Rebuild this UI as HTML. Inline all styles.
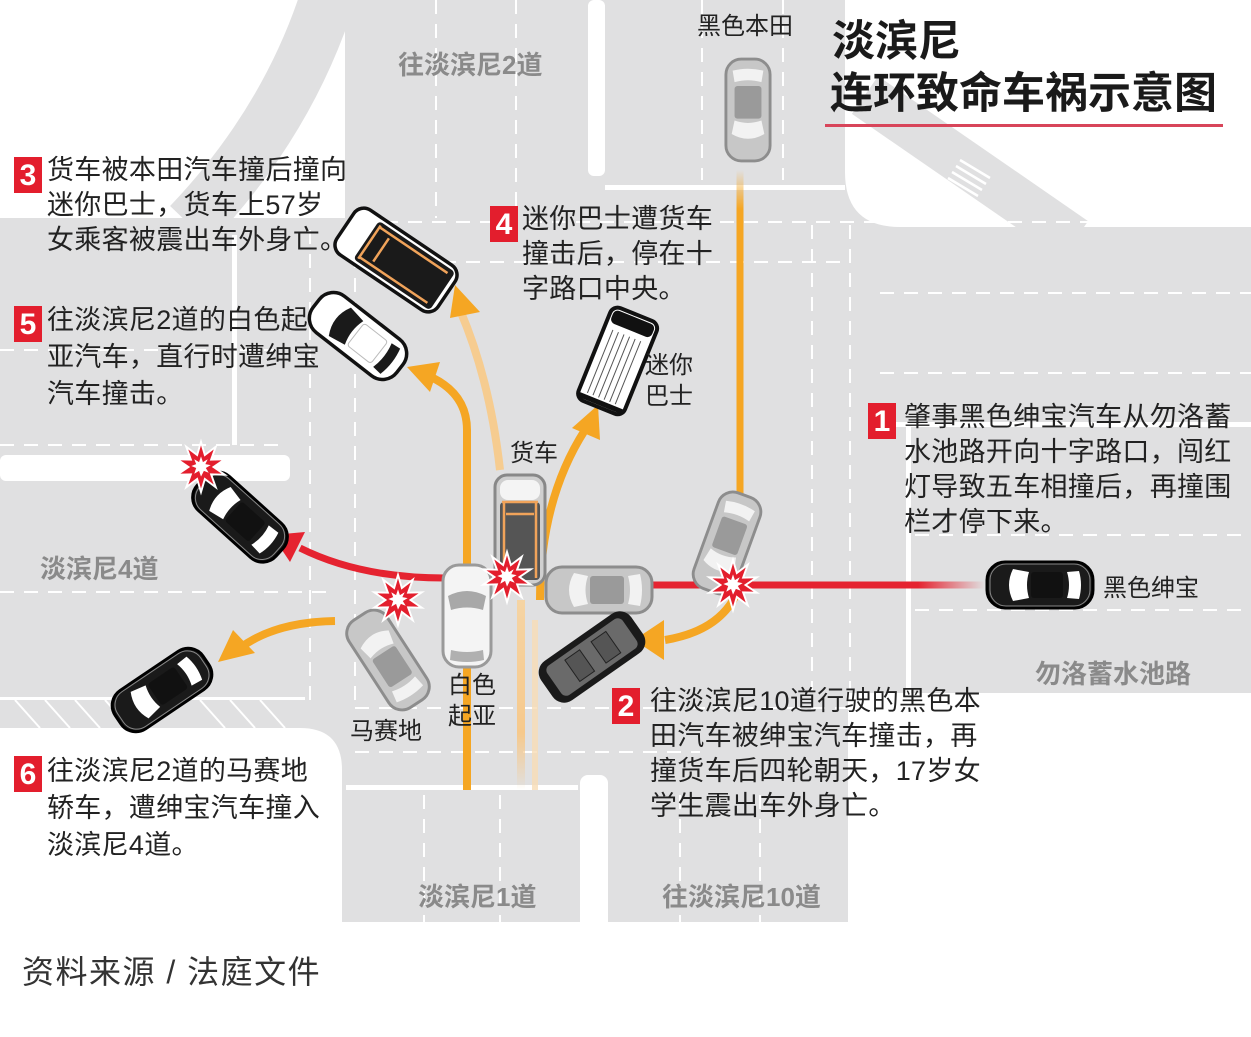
<!DOCTYPE html>
<html><head><meta charset="utf-8"><style>
html,body{margin:0;padding:0;background:#fff;}
body{width:1251px;height:1037px;overflow:hidden;position:relative;font-family:"Liberation Sans","Noto Sans CJK SC",sans-serif;}
svg{position:absolute;left:0;top:0;}
.t{position:absolute;font-size:27px;line-height:35px;color:#222;white-space:nowrap;letter-spacing:0.3px;}
.n{position:absolute;width:28px;height:36px;background:#e31e2d;color:#fff;font-weight:bold;font-size:30px;line-height:37px;text-align:center;}
.r{position:absolute;font-size:26px;font-weight:bold;color:#8a8a8a;white-space:nowrap;}
.c{position:absolute;font-size:24px;line-height:31px;color:#222;white-space:nowrap;}
</style></head><body>
<svg width="1251" height="1037" viewBox="0 0 1251 1037">
<defs>
<linearGradient id="gH" gradientUnits="userSpaceOnUse" x1="0" y1="170" x2="0" y2="495"><stop offset="0" stop-color="#f5a623" stop-opacity="0"/><stop offset="0.12" stop-color="#f5a623"/><stop offset="1" stop-color="#f5a623"/></linearGradient>
<linearGradient id="gR" gradientUnits="userSpaceOnUse" x1="650" y1="0" x2="985" y2="0"><stop offset="0" stop-color="#e52330"/><stop offset="0.8" stop-color="#e52330"/><stop offset="1" stop-color="#e52330" stop-opacity="0"/></linearGradient>
<linearGradient id="gL" gradientUnits="userSpaceOnUse" x1="0" y1="790" x2="0" y2="600"><stop offset="0" stop-color="#f5c78a" stop-opacity="0"/><stop offset="0.3" stop-color="#f6c98c"/><stop offset="1" stop-color="#f5d4a4"/></linearGradient>
<symbol id="star" viewBox="-28 -28 56 56" overflow="visible">
<polygon points="0,-26 4,-12.4 15.3,-21 10.5,-7.6 24.7,-8 13,0 24.7,8 10.5,7.6 15.3,21 4,12.4 0,26 -4,12.4 -15.3,21 -10.5,7.6 -24.7,8 -13,0 -24.7,-8 -10.5,-7.6 -15.3,-21 -4,-12.4" fill="#e31e2d" stroke="#fff" stroke-width="2"/>
<polygon points="0,-11 2,-5 7,-8 4.5,-3 10,-2 5,1 8,6 3,4 0,10 -2,4 -7,7 -5,1 -10,-1 -5,-3 -7,-8 -2,-5" fill="#fff"/>
</symbol>
<symbol id="carG" viewBox="0 0 50 110" overflow="visible">
<rect x="2" y="2" width="46" height="106" rx="16" fill="#c7c7c7" stroke="#8d8d8d" stroke-width="3"/>
<path d="M8 30 Q25 20 42 30 L39 44 Q25 39 11 44Z" fill="#f2f2f2"/>
<rect x="11" y="46" width="28" height="34" rx="3" fill="#9a9a9a"/>
<path d="M11 84 Q25 88 39 84 L41 96 Q25 100 9 96Z" fill="#f2f2f2"/>
</symbol>
<symbol id="carW" viewBox="0 0 50 110" overflow="visible">
<rect x="2" y="2" width="46" height="106" rx="18" fill="#fff" stroke="#111" stroke-width="3.5"/>
<path d="M7 32 Q25 22 43 32 L40 50 Q25 45 10 50Z" fill="#1a1a1a"/>
<rect x="11" y="52" width="28" height="30" rx="3" fill="#fff" stroke="#bbb"/>
<path d="M10 86 Q25 90 40 86 L41 96 Q25 100 9 96Z" fill="#1a1a1a"/>
</symbol>
<symbol id="carB" viewBox="0 0 50 110" overflow="visible">
<rect x="2" y="2" width="46" height="106" rx="18" fill="#1a1a1a" stroke="#000" stroke-width="3"/>
<rect x="4" y="5" width="42" height="100" rx="16" fill="none" stroke="#888" stroke-width="1"/>
<path d="M9 28 Q25 20 41 28 L38 44 Q25 40 12 44Z" fill="#fff"/>
<rect x="12" y="46" width="26" height="32" rx="3" fill="#111"/>
<path d="M12 82 Q25 86 38 82 L39 94 Q25 98 11 94Z" fill="#fff"/>
</symbol>
</defs>

<rect x="0" y="0" width="1251" height="922" fill="#e0e0e1"/>
<path d="M0 0 H345 V218 H0Z" fill="#fff"/>
<path d="M330 -10 Q290 120 190 225" stroke="#e0e0e1" stroke-width="55" fill="none"/>
<rect x="588" y="0" width="17" height="176" rx="6" fill="#fff"/>
<rect x="605" y="185" width="240" height="5" fill="#fff"/>
<path d="M845 0 H1251 V227 H900 Q845 227 845 172 Z" fill="#fff"/>
<path d="M865 95 L1075 240" stroke="#e0e0e1" stroke-width="46" fill="none"/>
<g stroke="#fff" stroke-width="2.5"><line x1="960" y1="160" x2="990" y2="178"/><line x1="956" y1="166" x2="986" y2="184"/><line x1="952" y1="172" x2="982" y2="190"/><line x1="948" y1="178" x2="978" y2="196"/></g>
<rect x="0" y="455" width="290" height="26" rx="6" fill="#fff"/>
<rect x="232" y="235" width="5" height="210" fill="#fff"/>
<path d="M0 728 H300 Q342 728 342 770 V1037 H0Z" fill="#fff"/>
<rect x="0" y="697" width="305" height="3" fill="#fff"/>
<g stroke="#fff" stroke-width="2"><line x1="15" y1="700" x2="40" y2="728"/><line x1="45" y1="700" x2="70" y2="728"/><line x1="75" y1="700" x2="100" y2="728"/><line x1="105" y1="700" x2="130" y2="728"/><line x1="200" y1="700" x2="225" y2="728"/><line x1="230" y1="700" x2="255" y2="728"/><line x1="260" y1="700" x2="285" y2="728"/></g>
<rect x="580" y="775" width="28" height="160" rx="8" fill="#fff"/>
<rect x="346" y="785" width="232" height="5" fill="#fff"/>
<rect x="848" y="693" width="403" height="344" fill="#fff"/>
<rect x="0" y="922" width="1251" height="115" fill="#fff"/>
<rect x="890" y="422" width="361" height="5" fill="#fff"/>
<rect x="906" y="422" width="5" height="271" fill="#fff"/>

<g stroke="#fff" stroke-width="2" stroke-dasharray="14 10" fill="none">
<line x1="436" y1="0" x2="436" y2="218"/><line x1="516" y1="0" x2="516" y2="218"/>
<line x1="702" y1="0" x2="702" y2="180"/><line x1="783" y1="0" x2="783" y2="180"/>
<line x1="360" y1="222" x2="1251" y2="222"/>
<line x1="370" y1="262" x2="845" y2="262"/>
<line x1="0" y1="350" x2="280" y2="350"/><line x1="0" y1="445" x2="280" y2="445"/>
<line x1="0" y1="592" x2="330" y2="592"/>
<line x1="880" y1="293" x2="1251" y2="293"/><line x1="880" y1="373" x2="1251" y2="373"/>
<line x1="915" y1="535" x2="1251" y2="535"/><line x1="915" y1="610" x2="1251" y2="610"/>
<line x1="812" y1="225" x2="812" y2="690"/><line x1="850" y1="225" x2="850" y2="690"/>
<line x1="310" y1="230" x2="310" y2="700"/><line x1="355" y1="230" x2="355" y2="700"/>
<line x1="355" y1="708" x2="960" y2="708"/><line x1="355" y1="752" x2="700" y2="752"/>
<line x1="424" y1="795" x2="424" y2="922"/><line x1="500" y1="795" x2="500" y2="922"/>
<line x1="680" y1="795" x2="680" y2="922"/><line x1="760" y1="795" x2="760" y2="922"/>
</g>

<rect x="825" y="124" width="398" height="3" fill="#d8455a"/>

<line x1="740" y1="170" x2="740" y2="495" stroke="url(#gH)" stroke-width="7"/>
<path d="M521 790 L521 600" stroke="url(#gL)" stroke-width="8" fill="none"/>
<path d="M500 470 Q490 380 460 310" stroke="#f6cc90" stroke-width="8" fill="none"/>
<path d="M535 790 L535 620" stroke="#f7dcb5" stroke-width="6" fill="none" opacity="0.8"/>
<path d="M467 790 L467 430 Q467 395 433 378" stroke="#f5a623" stroke-width="8" fill="none"/>
<polygon points="407,367 440,362 430,392" fill="#f5a623"/>
<polygon points="455,285 480,312 450,318" fill="#f5a623"/>
<path d="M540 600 Q540 500 585 430" stroke="#f5a623" stroke-width="8" fill="none"/>
<polygon points="598,405 600,440 572,428" fill="#f5a623"/>
<path d="M740 585 Q725 630 665 640" stroke="#f5a623" stroke-width="8" fill="none"/>
<polygon points="634,640 664,620 664,660" fill="#f5a623"/>
<path d="M335 621 Q275 622 240 648" stroke="#f5a623" stroke-width="8" fill="none"/>
<polygon points="218,662 233,630 255,653" fill="#f5a623"/>

<line x1="650" y1="585" x2="985" y2="585" stroke="url(#gR)" stroke-width="7"/>
<path d="M445 578 Q360 578 300 548" stroke="#e52330" stroke-width="7" fill="none"/>
<polygon points="272,535 305,532 290,562" fill="#e52330"/>

<g transform="translate(748,110) rotate(180) translate(-24,-60)"><use href="#carG" width="48" height="120"/></g>
<g transform="translate(727,543) rotate(200) translate(-24,-55)"><use href="#carG" width="48" height="110"/></g>
<g transform="translate(1040,585) rotate(-90) translate(-25,-58)"><use href="#carB" width="50" height="116"/></g>
<g transform="translate(599,590) rotate(-90) translate(-25,-56)"><use href="#carG" width="50" height="112"/></g>
<g transform="translate(467,616) translate(-25,-52)"><rect x="1" y="1" width="48" height="102" rx="16" fill="#f4f4f4" stroke="#9a9a9a" stroke-width="3"/><path d="M6 32 Q25 22 44 32 L41 46 Q25 41 9 46Z" fill="#a8a8a8"/><path d="M9 86 Q25 90 41 86 L42 96 Q25 100 8 96Z" fill="#b0b0b0"/></g>
<g transform="translate(520,530) translate(-26,-56)"><rect x="1" y="1" width="50" height="110" rx="12" fill="#d0d0d0" stroke="#888" stroke-width="3"/><rect x="6" y="6" width="40" height="20" rx="8" fill="#f4f4f4"/><rect x="6" y="28" width="40" height="78" rx="4" fill="#555"/><path d="M8 28 L44 28 M12 40 L40 40 M10 28 L10 104 M42 28 L42 104" stroke="#f0a35a" stroke-width="2.5" fill="none"/></g>
<g transform="translate(592,657) rotate(55) translate(-25,-56)"><rect x="1" y="1" width="48" height="110" rx="14" fill="#1a1a1a"/><rect x="7" y="10" width="36" height="92" rx="6" fill="#6a6a6a"/><rect x="12" y="30" width="26" height="18" fill="#555" stroke="#222"/><rect x="12" y="62" width="26" height="18" fill="#555" stroke="#222"/></g>
<g transform="translate(388,660) rotate(-33) translate(-25,-54)"><use href="#carG" width="50" height="108"/></g>
<g transform="translate(240,517) rotate(-48) translate(-25,-60)"><use href="#carB" width="50" height="120"/></g>
<g transform="translate(162,690) rotate(-124) translate(-25,-60)"><use href="#carB" width="50" height="120"/></g>
<g transform="translate(396,260) rotate(-56) translate(-28,-62)"><rect x="1" y="1" width="54" height="122" rx="12" fill="#fff" stroke="#111" stroke-width="3.5"/><rect x="5" y="26" width="46" height="92" rx="4" fill="#1a1a1a"/><path d="M8 30 L48 30 M14 44 L42 44 M10 30 L10 112 M46 30 L46 112" stroke="#f0a35a" stroke-width="2.5" fill="none"/></g>
<g transform="translate(358,336) rotate(-52) translate(-25,-58)"><use href="#carW" width="50" height="116"/></g>
<g transform="translate(618,360) rotate(22) translate(-26,-50)"><rect x="1" y="1" width="50" height="100" rx="8" fill="#fff" stroke="#111" stroke-width="4"/><rect x="4" y="4" width="44" height="14" rx="5" fill="#111"/><g stroke="#555" stroke-width="1"><line x1="10" y1="24" x2="10" y2="92"/><line x1="16" y1="24" x2="16" y2="92"/><line x1="22" y1="24" x2="22" y2="92"/><line x1="28" y1="24" x2="28" y2="92"/><line x1="34" y1="24" x2="34" y2="92"/><line x1="40" y1="24" x2="40" y2="92"/></g><rect x="3" y="94" width="46" height="5" fill="#111"/></g>

<use href="#star" x="174" y="440" width="54" height="54"/>
<use href="#star" x="371" y="573" width="54" height="54"/>
<use href="#star" x="480" y="550" width="54" height="54"/>
<use href="#star" x="706" y="558" width="54" height="54"/>
</svg>

<div style="position:absolute;left:832px;top:16px;font-size:43px;font-weight:bold;color:#1a1a1a;line-height:52px;">淡滨尼</div>
<div style="position:absolute;left:830px;top:68px;font-size:43px;font-weight:bold;color:#1a1a1a;line-height:52px;white-space:nowrap;">连环致命车祸示意图</div>

<div class="r" style="left:398px;top:45px;">往淡滨尼2道</div>
<div class="r" style="left:40px;top:549px;">淡滨尼4道</div>
<div class="r" style="left:1035px;top:654px;">勿洛蓄水池路</div>
<div class="r" style="left:418px;top:877px;">淡滨尼1道</div>
<div class="r" style="left:662px;top:877px;">往淡滨尼10道</div>

<div class="c" style="left:697px;top:11px;">黑色本田</div>
<div class="c" style="left:645px;top:350px;">迷你<br>巴士</div>
<div class="c" style="left:510px;top:438px;">货车</div>
<div class="c" style="left:448px;top:670px;">白色<br>起亚</div>
<div class="c" style="left:350px;top:716px;">马赛地</div>
<div class="c" style="left:1103px;top:573px;">黑色绅宝</div>

<div class="n" style="left:14px;top:157px;">3</div>
<div class="t" style="left:47px;top:153px;">货车被本田汽车撞后撞向<br>迷你巴士，货车上57岁<br>女乘客被震出车外身亡。</div>
<div class="n" style="left:14px;top:306px;">5</div>
<div class="t" style="left:47px;top:302px;line-height:37px;">往淡滨尼2道的白色起<br>亚汽车，直行时遭绅宝<br>汽车撞击。</div>
<div class="n" style="left:490px;top:206px;">4</div>
<div class="t" style="left:522px;top:202px;">迷你巴士遭货车<br>撞击后，停在十<br>字路口中央。</div>
<div class="n" style="left:868px;top:403px;">1</div>
<div class="t" style="left:904px;top:400px;">肇事黑色绅宝汽车从勿洛蓄<br>水池路开向十字路口，闯红<br>灯导致五车相撞后，再撞围<br>栏才停下来。</div>
<div class="n" style="left:612px;top:688px;">2</div>
<div class="t" style="left:650px;top:684px;">往淡滨尼10道行驶的黑色本<br>田汽车被绅宝汽车撞击，再<br>撞货车后四轮朝天，17岁女<br>学生震出车外身亡。</div>
<div class="n" style="left:14px;top:756px;">6</div>
<div class="t" style="left:47px;top:753px;line-height:37px;">往淡滨尼2道的马赛地<br>轿车，遭绅宝汽车撞入<br>淡滨尼4道。</div>

<div style="position:absolute;left:22px;top:947px;font-size:32px;letter-spacing:1.5px;color:#333;white-space:nowrap;">资料来源 / 法庭文件</div>
</body></html>
